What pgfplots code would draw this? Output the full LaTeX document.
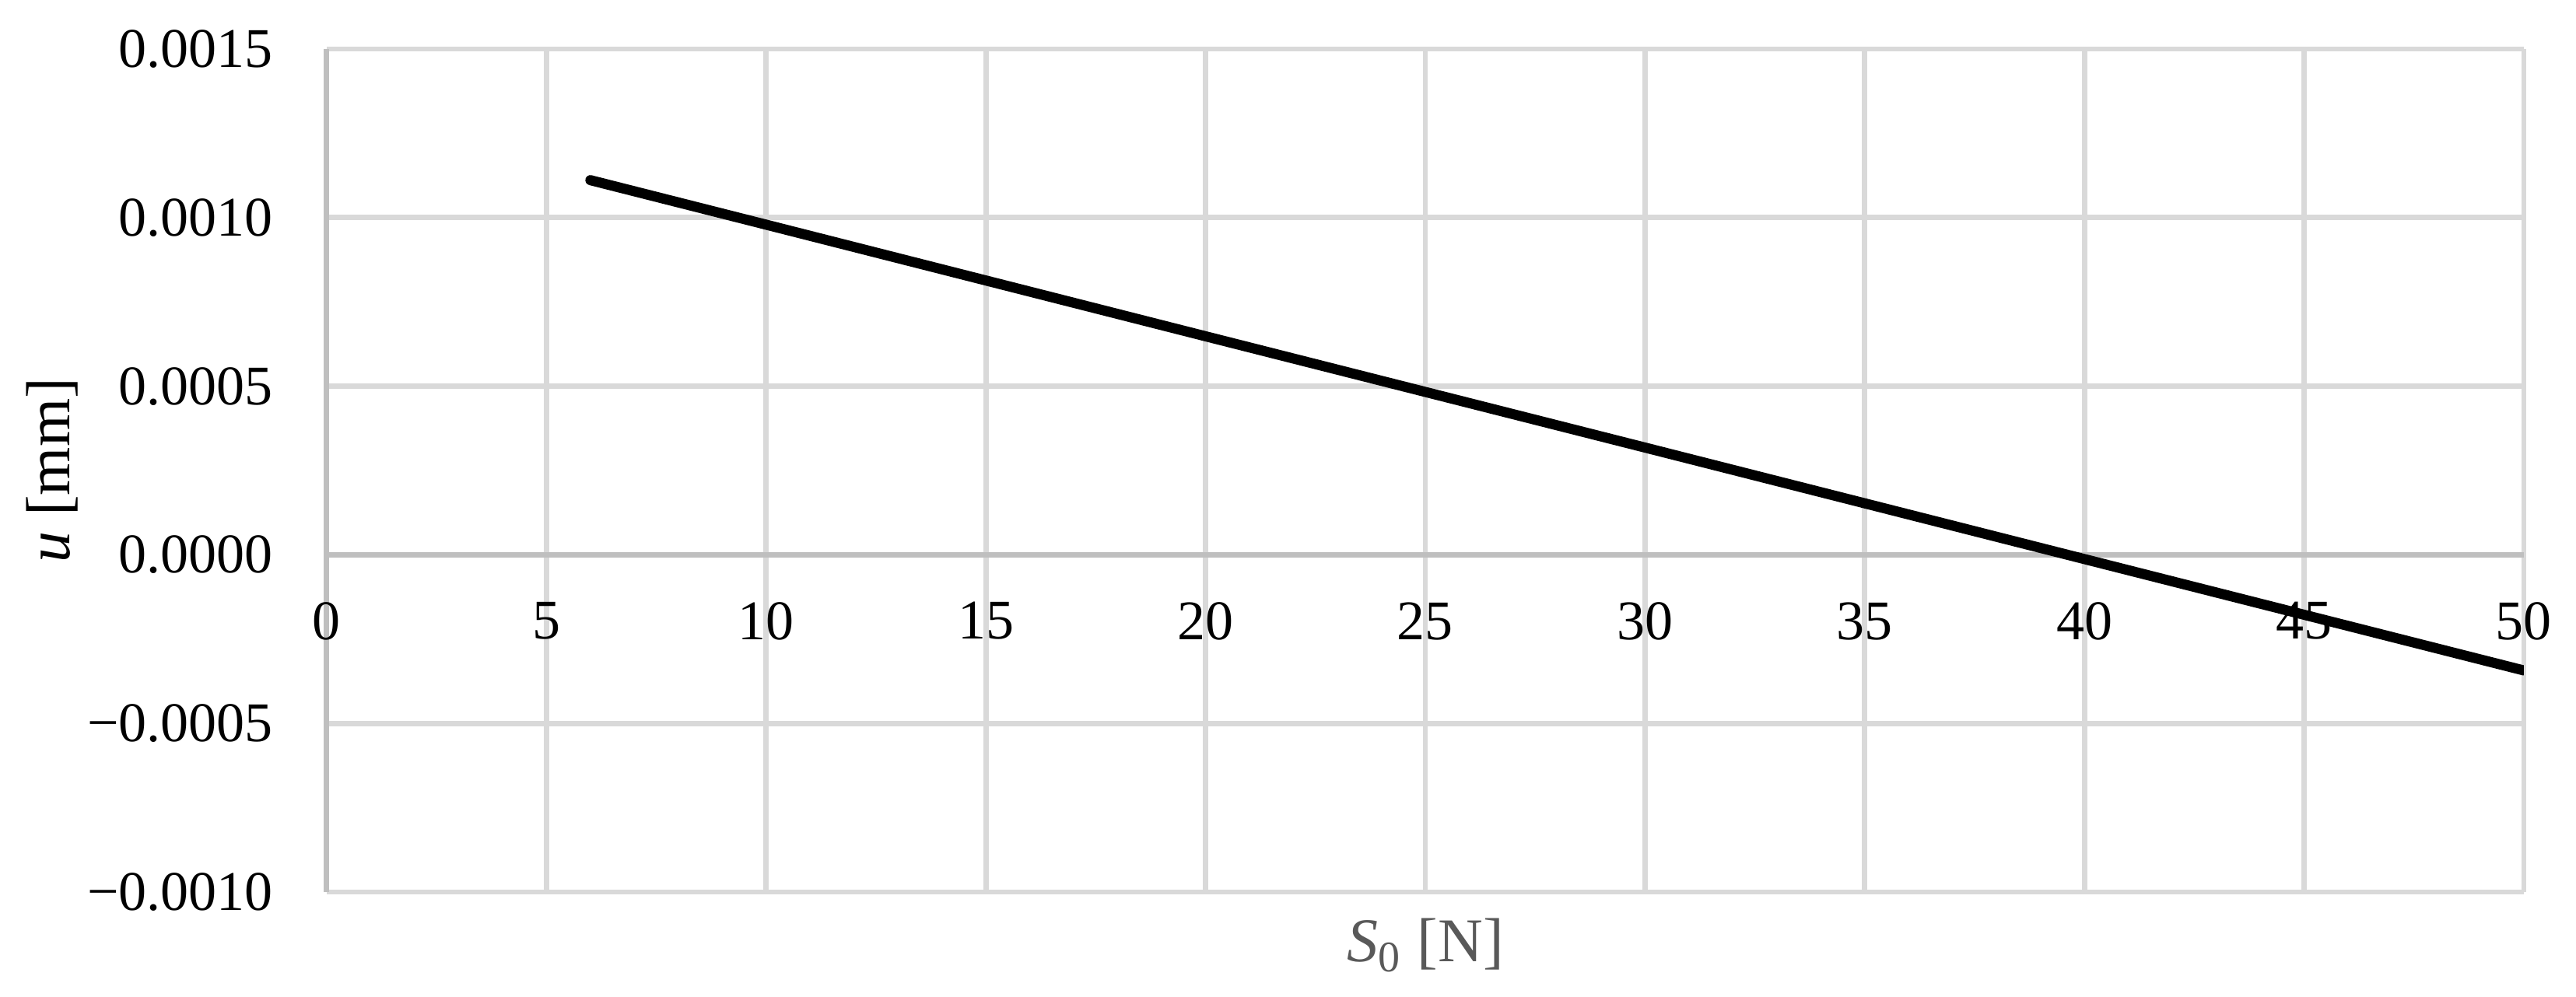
\documentclass[border=0pt]{standalone}
\usepackage{fontspec}
\setmainfont{Liberation Serif}
\usepackage{pgfplots}
\pgfplotsset{compat=1.18}
\definecolor{gridc}{HTML}{D9D9D9}
\definecolor{axc}{HTML}{BFBFBF}
\definecolor{labc}{HTML}{595959}
\begin{document}
\begin{tikzpicture}
\useasboundingbox (-84pt,-27pt) rectangle (578.2pt,229.4pt);
\begin{axis}[
  at={(0,0)}, anchor=south west,
  scale only axis, width=564.8pt, height=216.8pt,
  xmin=0, xmax=50, ymin=-0.001, ymax=0.0015,
  axis x line*=middle, axis y line*=left,
  hide obscured x ticks=false, hide obscured y ticks=false,
  scaled y ticks=false, scaled x ticks=false,
  axis line style={draw=axc, line width=1.4pt},
  xtick={0,5,10,15,20,25,30,35,40,45,50},
  xticklabels={0,5,10,15,20,25,30,35,40,45,50},
  ytick={-0.001,-0.0005,0,0.0005,0.001,0.0015},
  yticklabels={−0.0010,−0.0005,0.0000,0.0005,0.0010,0.0015},
  major tick length=0pt,
  grid=major, grid style={draw=gridc, line width=1.35pt},
  tick label style={font=\fontsize{14.4}{16}\selectfont, text=black},
  xticklabel style={anchor=north, inner sep=0pt, yshift=-12pt},
  yticklabel style={anchor=east, inner sep=0pt, xshift=-13.6pt},
  xlabel={\textit{S}\textsubscript{0} [N]},
  ylabel={\textit{u} [mm]},
  every axis x label/.style={at={(axis description cs:0.5,-0.08303)}, anchor=base, font=\fontsize{16}{18}\selectfont, text=labc},
  every axis y label/.style={at={(axis description cs:-0.11686,0.5)}, rotate=90, anchor=base, font=\fontsize{16}{18}\selectfont, text=black},
]
\addplot[black, line width=2.6pt, line cap=round] table {
x y
6 0.001111
10 0.000979
20 0.000648
30 0.000318
40 -0.0000127
50 -0.000343
};
\end{axis}
\end{tikzpicture}
\end{document}
